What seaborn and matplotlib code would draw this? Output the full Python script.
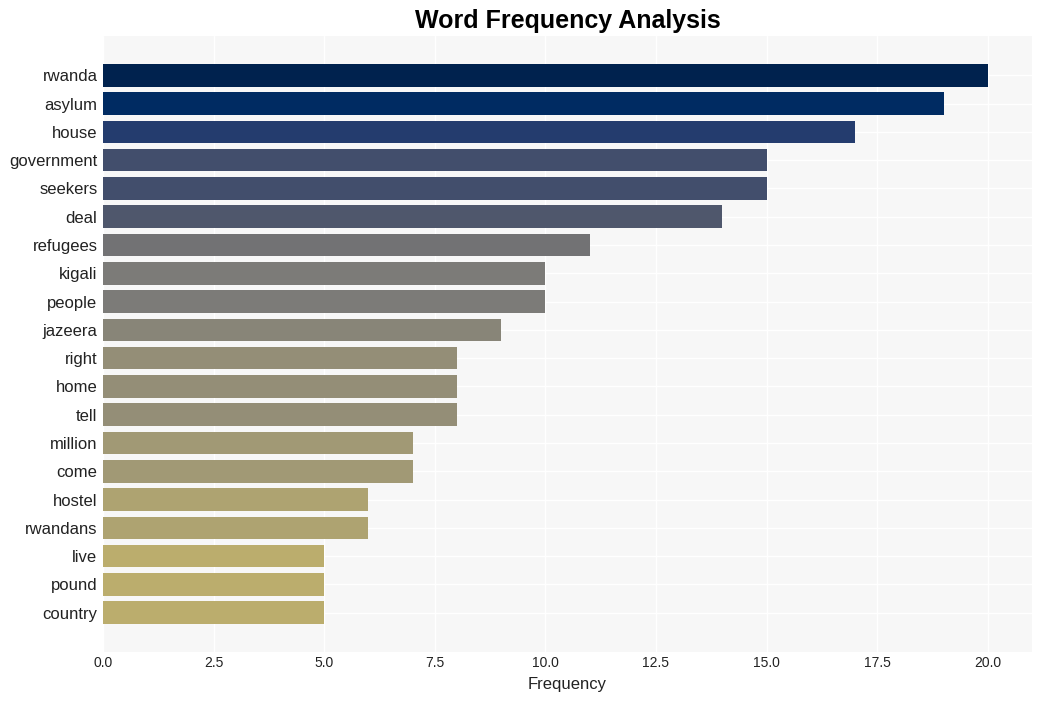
import matplotlib
matplotlib.use("Agg")
import matplotlib.pyplot as plt
import pandas as pd
import seaborn as sns

# word counts
words = ['rwanda', 'asylum', 'house', 'government', 'seekers', 'deal', 'refugees',
         'kigali', 'people', 'jazeera', 'right', 'home', 'tell', 'million', 'come',
         'hostel', 'rwandans', 'live', 'pound', 'country']
counts = [20, 19, 17, 15, 15, 14, 11, 10, 10, 9, 8, 8, 8, 7, 7, 6, 6, 5, 5, 5]

df = pd.DataFrame({'Word': words, 'Frequency': counts})

sns.set_theme(style='whitegrid')
plt.rcParams['font.family'] = ['Liberation Sans', 'DejaVu Sans']

# colour each bar by its count on a reversed cividis scale
cmap = plt.get_cmap('cividis_r')
top = max(counts)
palette = {w: cmap(c / top) for w, c in zip(words, counts)}

fig = plt.figure(figsize=(10.42, 7.01), dpi=100)
ax = fig.add_axes([0.0989, 0.0699, 0.8915, 0.8787])
sns.barplot(data=df, x='Frequency', y='Word', hue='Word', palette=palette,
            width=0.8, legend=False, ax=ax, saturation=1, linewidth=0)

ax.set_facecolor('#f7f7f7')
ax.grid(True, color='white', linewidth=1)
for s in ax.spines.values():
    s.set_visible(False)
ax.set_xlim(0, 21)
ax.set_ylim(20.39, -1.39)
ax.set_xticks([0, 2.5, 5, 7.5, 10, 12.5, 15, 17.5, 20])
ax.set_xlabel('Frequency', fontsize=12, color='#222222', labelpad=5)
ax.set_ylabel('')
ax.tick_params(axis='y', labelsize=12, colors='#222222', pad=4, length=0)
ax.tick_params(axis='x', labelsize=10, colors='#222222', pad=3, length=0)
ax.set_title('Word Frequency Analysis', fontsize=18, fontweight='bold',
             color='black', pad=6)

fig.savefig('out.png', dpi=100)
